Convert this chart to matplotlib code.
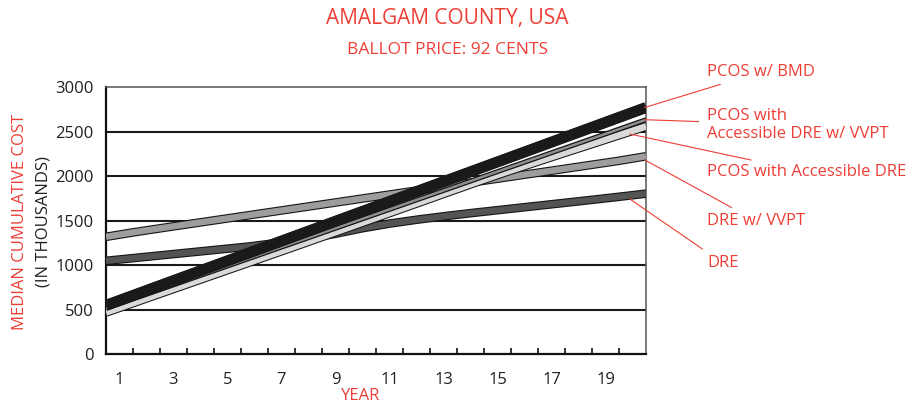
import numpy as np
import matplotlib
matplotlib.use("Agg")
import matplotlib.pyplot as plt
import matplotlib.patheffects as pe

plt.rcParams['font.family'] = ['Open Sans', 'DejaVu Sans']

RED = '#ee3e36'
INK = '#231f20'

# years shown on the category axis
years = np.arange(1, 21)
year_labels = [str(y) for y in years if y % 2 == 1]
y_ticks = [0, 500, 1000, 1500, 2000, 2500, 3000]

# median cumulative cost (thousands)
dre = [1050, 1082, 1114, 1146, 1178, 1210, 1250, 1295, 1350, 1415, 1470, 1515,
       1555, 1592, 1627, 1662, 1697, 1732, 1768, 1805]
dre_vvpt = [1320, 1372, 1420, 1467, 1514, 1561, 1608, 1655, 1702, 1749, 1796, 1843,
            1890, 1937, 1984, 2031, 2078, 2125, 2172, 2225]
pcos_acc = [470, 581, 693, 804, 916, 1027, 1139, 1251, 1364, 1477, 1590, 1703,
            1817, 1930, 2040, 2145, 2250, 2353, 2457, 2560]
pcos_acc_vvpt = [515, 627, 738, 850, 961, 1073, 1185, 1296, 1408, 1519, 1631, 1743,
                 1854, 1966, 2078, 2189, 2301, 2412, 2524, 2636]
pcos_bmd = [550, 667, 784, 901, 1018, 1135, 1252, 1369, 1486, 1603, 1720, 1837,
            1954, 2071, 2188, 2305, 2422, 2539, 2656, 2773]

fig = plt.figure(figsize=(9.2, 4.07), dpi=100)
ax = fig.add_axes([0.1152, 0.1295, 0.587, 0.656])

xs = np.linspace(0.5, 20.5, len(years))

# gridlines
for v in y_ticks[1:-1]:
    ax.axhline(v, color='#1a1a1a', lw=1.5, zorder=1)

# (values, face colour, face width, outline width)
series = [
    (dre, '#545454', 4.6, 6.2),
    (dre_vvpt, '#9d9d9d', 4.6, 6.2),
    (pcos_acc, '#dadada', 4.8, 6.3),
    (pcos_acc_vvpt, '#8e8e8e', 1.8, 3.6),
    (pcos_bmd, '#1a1a1a', 7.4, 7.9),
]
for i, (vals, col, lw, ow) in enumerate(series):
    ax.plot(xs, vals, color=col, lw=lw, solid_capstyle='butt', zorder=3 + i,
            path_effects=[pe.Stroke(linewidth=ow, foreground='#151515'), pe.Normal()])

ax.set_xlim(0.5, 20.5)
ax.set_ylim(0, 3000)
ax.set_yticks(y_ticks)
ax.set_yticklabels([str(v) for v in y_ticks])
ax.set_xticks(years[::2])
ax.set_xticklabels(year_labels)
ax.set_xticks(np.arange(1.5, 20.5, 1), minor=True)
ax.tick_params(axis='y', length=0, pad=9, labelsize=12, labelcolor=INK)
ax.tick_params(axis='x', which='major', length=0, pad=13, labelsize=12, labelcolor=INK)
ax.tick_params(axis='x', which='minor', direction='in', length=4.5, width=1.2, color='#111')

for s in ['left', 'bottom']:
    ax.spines[s].set_color('#111')
    ax.spines[s].set_linewidth(1.6)
for s in ['top', 'right']:
    ax.spines[s].set_color('#555')
    ax.spines[s].set_linewidth(1.1)

# titles
fig.text(0.486, 0.955, 'AMALGAM COUNTY, USA', color=RED, fontsize=15, ha='center', va='center')
fig.text(0.486, 0.877, 'BALLOT PRICE: 92 CENTS', color=RED, fontsize=12.5, ha='center', va='center')

# axis labels
fig.text(0.022, 0.455, 'MEDIAN CUMULATIVE COST', color=RED, fontsize=12, rotation=90,
         ha='center', va='center')
fig.text(0.047, 0.455, '(IN THOUSANDS)', color=INK, fontsize=12, rotation=90,
         ha='center', va='center')
fig.text(0.392, 0.028, 'YEAR', color=RED, fontsize=12, ha='center', va='center')

# callouts on the right
callouts = [
    ('PCOS w/ BMD', (20.45, pcos_bmd[-1]), 72),
    ('PCOS with\nAccessible DRE w/ VVPT', (20.45, pcos_acc_vvpt[-1]), 125),
    ('PCOS with Accessible DRE', (19.9, pcos_acc[-1] - 85), 172),
    ('DRE w/ VVPT', (20.45, dre_vvpt[-1] - 40), 221),
    ('DRE', (19.9, dre[-1] - 60), 263),
]
for text, xy, py in callouts:
    ax.annotate(text, xy=xy, xycoords='data',
                xytext=(707 / 920, 1 - py / 407), textcoords='figure fraction',
                color=RED, fontsize=12, ha='left', va='center', linespacing=1.25,
                arrowprops=dict(arrowstyle='-', color=RED, lw=0.8,
                                shrinkA=4, shrinkB=0),
                annotation_clip=False, zorder=10)

fig.savefig('out.png', dpi=100)
